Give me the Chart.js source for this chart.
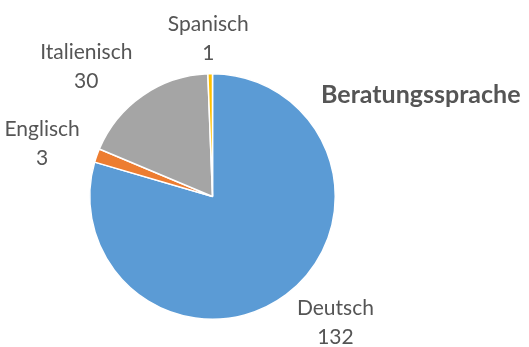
<!DOCTYPE html>
<html>
<head>
<meta charset="utf-8">
<script src="https://cdn.jsdelivr.net/npm/chart.js@4/dist/chart.umd.min.js"></script>
<style>
  html, body { margin: 0; padding: 0; background: #fff; }
  #wrap { width: 529px; height: 347px; }
</style>
</head>
<body>
<div id="wrap"><canvas id="myChart" width="529" height="347"></canvas></div>
<script>
// Daten
const sprachen = ['Deutsch', 'Englisch', 'Italienisch', 'Spanisch'];
const anzahl = [132, 3, 30, 1];
const farben = ['#5B9BD5', '#ED7D31', '#A5A5A5', '#FFC000'];
const titel = 'Beratungssprache';

const labelFont = '21px Lato, "Open Sans", sans-serif';
const textFarbe = '#555555';

// Beschriftungen ausserhalb der Segmente (Name + Wert)
const outsideLabels = {
    id: 'outsideLabels',
    afterDatasetsDraw(chart) {
        const ctx = chart.ctx;
        const meta = chart.getDatasetMeta(0);
        ctx.save();
        ctx.font = labelFont;
        ctx.fillStyle = textFarbe;
        ctx.textAlign = 'center';
        ctx.textBaseline = 'middle';
        const lineH = 29;
        meta.data.forEach((arc, i) => {
            const p = arc.getProps(['x', 'y', 'startAngle', 'endAngle', 'outerRadius'], true);
            const mid = (p.startAngle + p.endAngle) / 2;
            const d = p.outerRadius + 18;
            const ax = p.x + Math.cos(mid) * d;
            const ay = p.y + Math.sin(mid) * d;
            const lines = [chart.data.labels[i], String(chart.data.datasets[0].data[i])];
            const w = Math.max(...lines.map(t => ctx.measureText(t).width));
            const h = lineH * 2;
            const sx = Math.max(-1, Math.min(1, Math.cos(mid) * 2));
            const cx = ax + sx * w / 2;
            const cy = ay + Math.sin(mid) * h / 2 * 0.6;
            ctx.fillText(lines[0], cx, cy - lineH / 2);
            ctx.fillText(lines[1], cx, cy + lineH / 2);
        });
        ctx.restore();
    }
};

// Titel rechts neben dem Diagramm
const sideTitle = {
    id: 'sideTitle',
    afterDraw(chart) {
        const ctx = chart.ctx;
        ctx.save();
        ctx.font = 'bold 25px Lato, "Open Sans", sans-serif';
        ctx.fillStyle = textFarbe;
        ctx.textAlign = 'left';
        ctx.textBaseline = 'middle';
        ctx.fillText(titel, 321, 95);
        ctx.restore();
    }
};

const ctx = document.getElementById('myChart').getContext('2d');
new Chart(ctx, {
    type: 'pie',
    data: {
        labels: sprachen,
        datasets: [{
            data: anzahl,
            backgroundColor: farben,
            borderColor: '#ffffff',
            borderWidth: 1.5
        }]
    },
    options: {
        responsive: false,
        animation: false,
        layout: {
            padding: { top: 73, bottom: 27, left: 89, right: 193 }
        },
        plugins: {
            legend: { display: false },
            tooltip: { enabled: false }
        }
    },
    plugins: [outsideLabels, sideTitle]
});
</script>
</body>
</html>
